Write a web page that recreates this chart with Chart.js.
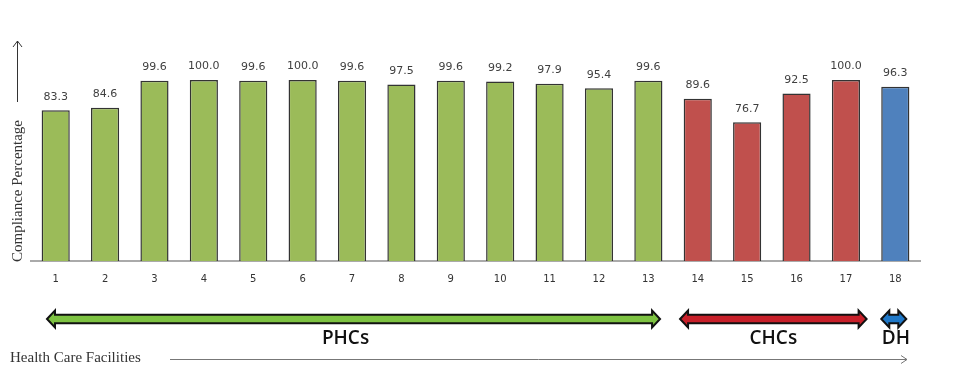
<!DOCTYPE html>
<html>
<head>
<meta charset="utf-8">
<script src="https://cdn.jsdelivr.net/npm/chart.js@4.4.1/dist/chart.umd.min.js"></script>
<style>
  html, body { margin: 0; padding: 0; background: #fff; }
  #wrap { width: 955px; height: 386px; position: relative; }
</style>
</head>
<body>
<div id="wrap"><canvas id="chart"></canvas></div>
<script>
const facilities = ["1","2","3","4","5","6","7","8","9","10","11","12","13","14","15","16","17","18"];
const compliance = [83.3, 84.6, 99.6, 100.0, 99.6, 100.0, 99.6, 97.5, 99.6, 99.2, 97.9, 95.4, 99.6, 89.6, 76.7, 92.5, 100.0, 96.3];
const facilityType = ["PHC","PHC","PHC","PHC","PHC","PHC","PHC","PHC","PHC","PHC","PHC","PHC","PHC","CHC","CHC","CHC","CHC","DH"];
const typeColors = { PHC: "#9BBB59", CHC: "#C0504D", DH: "#4F81BD" };
const arrowColors = { PHC: "#7DC242", CHC: "#C8202A", DH: "#1F78C8" };
const groupLabels = { PHC: "PHCs", CHC: "CHCs", DH: "DH" };

// value labels above bars + annotations round the plot
const extras = {
  id: "extras",
  afterDatasetsDraw(chart) {
    const ctx = chart.ctx;
    const meta = chart.getDatasetMeta(0);
    ctx.save();
    ctx.fillStyle = "#404040";
    ctx.font = "11px 'DejaVu Sans', sans-serif";
    ctx.textAlign = "center";
    ctx.textBaseline = "bottom";
    meta.data.forEach((bar, i) => {
      ctx.fillText(compliance[i].toFixed(1), bar.x, bar.y - 8);
    });
    ctx.restore();
  },
  afterDraw(chart) {
    const ctx = chart.ctx;
    const x = chart.scales.x;
    ctx.save();

    // y axis title with arrow
    ctx.fillStyle = "#333";
    ctx.font = "15px 'Liberation Serif', serif";
    ctx.translate(18, 262);
    ctx.rotate(-Math.PI / 2);
    ctx.textAlign = "left";
    ctx.textBaseline = "middle";
    ctx.fillText("Compliance Percentage", 0, 0);
    ctx.setTransform(1, 0, 0, 1, 0, 0);
    ctx.strokeStyle = "#333";
    ctx.lineWidth = 1;
    ctx.beginPath();
    ctx.moveTo(17.5, 102); ctx.lineTo(17.5, 41);
    ctx.moveTo(13, 47); ctx.lineTo(17.5, 41); ctx.lineTo(22, 47);
    ctx.stroke();

    // x axis title with arrow
    ctx.fillStyle = "#333";
    ctx.textAlign = "left";
    ctx.textBaseline = "middle";
    ctx.fillText("Health Care Facilities", 10, 358);
    ctx.strokeStyle = "#777";
    ctx.beginPath();
    ctx.moveTo(170, 359.5); ctx.lineTo(907, 359.5);
    ctx.moveTo(901, 355.5); ctx.lineTo(907, 359.5); ctx.lineTo(901, 363.5);
    ctx.stroke();

    // group arrows
    const half = x.width / facilities.length / 2;
    const insets = { PHC: [16, 13], CHC: [7, 4], DH: [0, 0] };
    ["PHC", "CHC", "DH"].forEach(g => {
      const idx = facilityType.map((t, i) => t === g ? i : -1).filter(i => i >= 0);
      const first = idx[0], last = idx[idx.length - 1];
      let x0 = x.getPixelForValue(first) - half + insets[g][0];
      let x1 = x.getPixelForValue(last) + half - insets[g][1];
      if (g === "DH") { x0 = x.getPixelForValue(last) - 14; x1 = x.getPixelForValue(last) + 11; }
      const y = 319, sh = 4.2, hh = 8.5, hl = 8;
      ctx.beginPath();
      ctx.moveTo(x0, y);
      ctx.lineTo(x0 + hl, y - hh);
      ctx.lineTo(x0 + hl, y - sh);
      ctx.lineTo(x1 - hl, y - sh);
      ctx.lineTo(x1 - hl, y - hh);
      ctx.lineTo(x1, y);
      ctx.lineTo(x1 - hl, y + hh);
      ctx.lineTo(x1 - hl, y + sh);
      ctx.lineTo(x0 + hl, y + sh);
      ctx.lineTo(x0 + hl, y + hh);
      ctx.closePath();
      ctx.fillStyle = arrowColors[g];
      ctx.fill();
      ctx.lineWidth = 2;
      ctx.lineJoin = "miter";
      ctx.strokeStyle = "#111";
      ctx.stroke();

      ctx.fillStyle = "#111";
      ctx.font = "600 19px 'Open Sans', sans-serif";
      ctx.textAlign = "center";
      ctx.textBaseline = "middle";
      const cx = g === "DH" ? (x0 + x1) / 2 + 2 : (x0 + x1) / 2 - (g === "PHC" ? 8 : 0);
      ctx.fillText(groupLabels[g], cx, 339);
    });
    ctx.restore();
  }
};

new Chart(document.getElementById("chart").getContext("2d"), {
  type: "bar",
  data: {
    labels: facilities,
    datasets: [{
      label: "Compliance Percentage",
      data: compliance,
      backgroundColor: facilityType.map(t => typeColors[t]),
      borderColor: "#333",
      borderWidth: 1.5,
      barPercentage: 0.57,
      categoryPercentage: 1.0
    }]
  },
  options: {
    responsive: true,
    maintainAspectRatio: false,
    animation: false,
    layout: { padding: { left: 31, right: 35, top: 80, bottom: 0 } },
    plugins: {
      legend: { display: false },
      tooltip: { enabled: false }
    },
    scales: {
      x: {
        grid: { display: false, drawTicks: false },
        border: { display: true, color: "#AAAAAA", width: 2 },
        ticks: {
          color: "#333",
          padding: 12,
          font: { family: "'DejaVu Sans', sans-serif", size: 10 }
        },
        afterFit(scale) { scale.height = 125; }
      },
      y: {
        display: false,
        min: 0,
        max: 100
      }
    }
  },
  plugins: [extras]
});
</script>
</body>
</html>
